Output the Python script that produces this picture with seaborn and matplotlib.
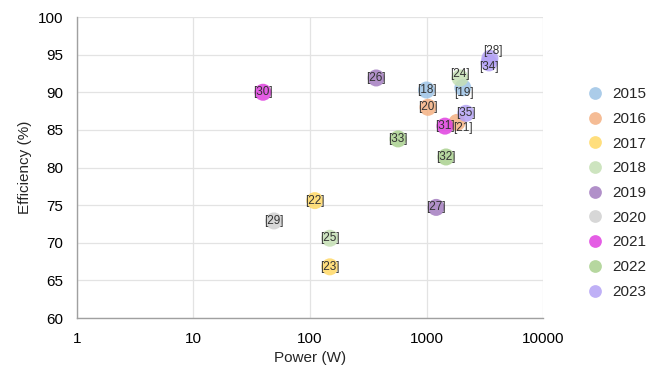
import pandas as pd
import seaborn as sns
import matplotlib.pyplot as plt

# data
refs = ['[18]', '[19]', '[20]', '[21]', '[22]', '[23]', '[24]', '[25]', '[26]', '[27]',
        '[28]', '[29]', '[30]', '[31]', '[32]', '[33]', '[34]', '[35]']
years = [2015, 2015, 2016, 2016, 2017, 2017, 2018, 2018, 2019, 2019,
         2023, 2020, 2021, 2021, 2022, 2022, 2023, 2023]
power = [1000, 2050, 1030, 1830, 110, 148, 1940, 148, 370, 1210,
         3500, 49, 39.5, 1440, 1470, 570, 3440, 2180]
efficiency = [90.3, 90.6, 88.0, 86.0, 75.6, 66.8, 91.9, 70.6, 91.9, 74.7,
              94.5, 72.9, 90.0, 85.5, 81.4, 83.8, 93.9, 87.2]

year_order = [2015, 2016, 2017, 2018, 2019, 2020, 2021, 2022, 2023]
year_colors = ['#9DC3E6', '#F4B183', '#FFD966', '#C5E0B4', '#A47DC0',
               '#D0D0D0', '#E040E0', '#A9D18E', '#B4A2F5']

# label nudges in points (only where labels were shifted in the original)
label_shift = {'[21]': (4, -4), '[19]': (1, -4), '[24]': (0, 3),
               '[28]': (2, 5), '[34]': (0, -3)}

df = pd.DataFrame({'ref': refs, 'year': years, 'power': power, 'eff': efficiency})

sns.set_theme(style='whitegrid')
plt.rcParams['font.family'] = ['Liberation Sans', 'DejaVu Sans']

fig = plt.figure(figsize=(6.49, 3.74), dpi=100)
ax = fig.add_axes([0.1186, 0.1497, 0.7181, 0.8048])

palette = dict(zip(year_order, year_colors))
sns.scatterplot(data=df, x='power', y='eff', hue='year', hue_order=year_order,
                palette=palette, s=150, alpha=0.85, linewidth=0, ax=ax, zorder=3)

for r, x, y in zip(refs, power, efficiency):
    dx, dy = label_shift.get(r, (0, 0))
    ax.annotate(r, (x, y), xytext=(dx, dy), textcoords='offset points',
                ha='center', va='center', fontsize=8.5, color='#333333', zorder=4)

ax.set_xscale('log')
ax.set_xlim(1, 10000)
ax.set_ylim(60, 100)
ax.set_xticks([1, 10, 100, 1000, 10000])
ax.set_xticklabels(['1', '10', '100', '1000', '10000'])
ax.set_yticks(range(60, 101, 5))
ax.minorticks_off()
ax.grid(True, color='#e3e3e3', linewidth=0.9)
ax.tick_params(labelsize=11, colors='black', pad=4)
ax.set_xlabel('Power (W)', fontsize=11)
ax.set_ylabel('Efficiency (%)', fontsize=11)
for side in ['top', 'right']:
    ax.spines[side].set_visible(False)
for side in ['left', 'bottom']:
    ax.spines[side].set_color('#a0a0a0')
    ax.spines[side].set_linewidth(1.0)

handles, labels = ax.get_legend_handles_labels()
leg = ax.legend(handles, [str(y) for y in year_order], loc='center left',
                bbox_to_anchor=(1.05, 0.415), frameon=False, fontsize=11,
                handletextpad=0.1, labelspacing=0.7, markerscale=0.75)

plt.savefig('out.png', dpi=100)
